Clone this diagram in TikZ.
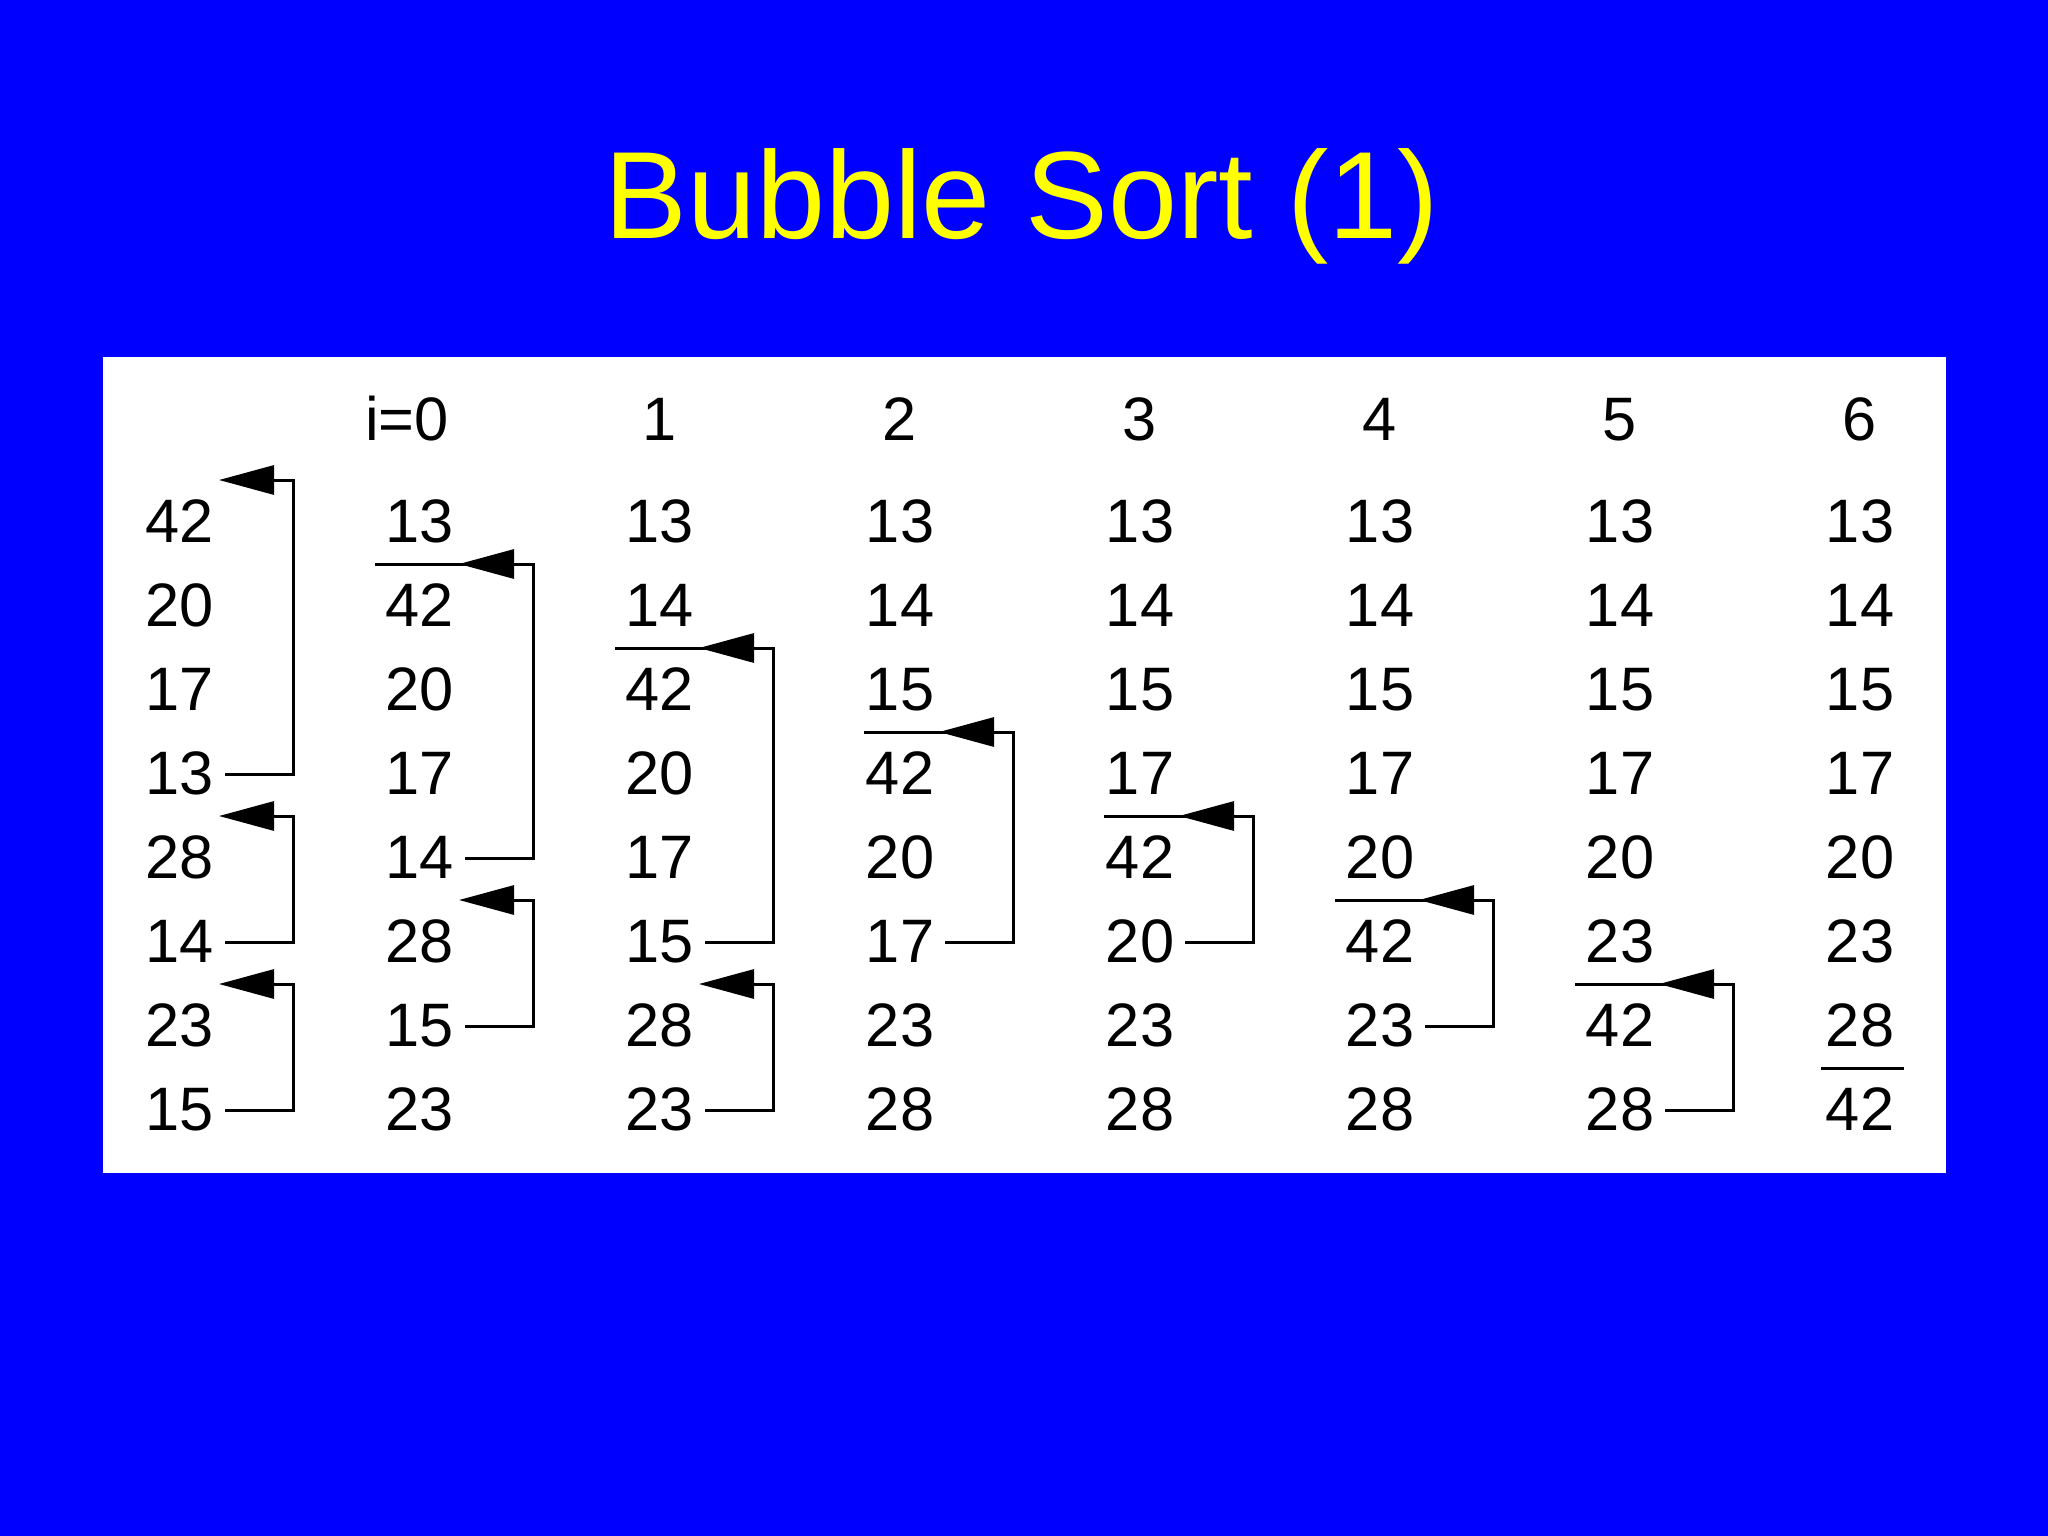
\documentclass[tikz,border=0pt]{standalone}
\usepackage{fontspec}
\setmainfont{Liberation Sans}
\usetikzlibrary{arrows.meta}
\definecolor{slideblue}{RGB}{0,0,255}
\definecolor{titleyellow}{RGB}{255,255,0}
\begin{document}
\begin{tikzpicture}[x=0.01cm,y=-0.01cm,
  num/.style={anchor=base, inner sep=0pt, font=\fontsize{17.45pt}{20pt}\selectfont},
  link/.style={line width=0.03cm, -{Triangle[length=0.55cm,width=0.29cm]}},
  sepline/.style={line width=0.03cm}]
\fill[slideblue] (0,0) rectangle (2048,1536);
\useasboundingbox (0,0) rectangle (2048,1536);
\fill[white] (103,357) rectangle (1946,1173);
\node[anchor=base, inner sep=0pt, text=titleyellow, font=\fontsize{35.3pt}{40pt}\selectfont] (title) at (1022,238) {Bubble Sort (1)};
% headers
\node[num] (h-1) at (407,440) {i=0};
\foreach \ci in {2,...,7} {
  \pgfmathtruncatemacro{\lab}{\ci-1}
  \node[num] (h-\ci) at ({180+240*\ci},440) {\lab};
}
% numbers
\foreach \vals [count=\ci from 0] in {
  {42,20,17,13,28,14,23,15},
  {13,42,20,17,14,28,15,23},
  {13,14,42,20,17,15,28,23},
  {13,14,15,42,20,17,23,28},
  {13,14,15,17,42,20,23,28},
  {13,14,15,17,20,42,23,28},
  {13,14,15,17,20,23,42,28},
  {13,14,15,17,20,23,28,42}} {
  \foreach \v [count=\ri from 0] in \vals {
    \node[num] (n-\ci-\ri) at ({180+240*\ci},{542+84*\ri}) {\v};
  }
}
% separators
\foreach \ci/\lo in {1/45, 2/45, 3/36, 4/36, 5/45, 6/45} {
  \coordinate (sl-\ci) at ({180+240*\ci-\lo},{480+84*\ci});
  \coordinate (sr-\ci) at ({180+240*\ci+113},{480+84*\ci});
  \draw[sepline] (sl-\ci) -- (sr-\ci);
}
\coordinate (sl-7) at (1821,1068);
\coordinate (sr-7) at (1904,1068);
\draw[sepline] (sl-7) -- (sr-7);
% swap arrows
\foreach \ci/\ri/\ki in {0/3/0, 0/5/4, 0/7/6, 1/4/1, 1/6/5, 2/5/2, 2/7/6, 3/5/3, 4/5/4, 5/6/5, 6/7/6} {
  \coordinate (s-\ci-\ri) at ({180+240*\ci+45},{522+84*\ri});
  \coordinate (t-\ci-\ki) at ({180+240*\ci+39},{480+84*\ki});
  \draw[link] (s-\ci-\ri) -- ++(68,0) |- (t-\ci-\ki);
}
\end{tikzpicture}
\end{document}
